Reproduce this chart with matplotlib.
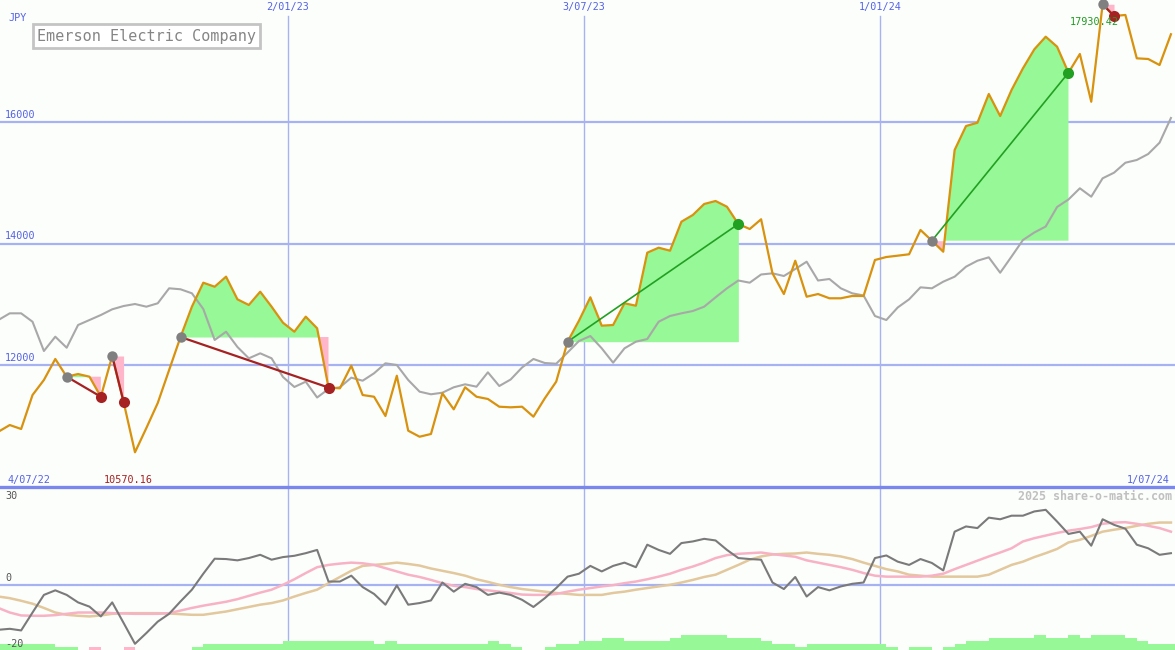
import numpy as np
import pandas as pd
import matplotlib
matplotlib.use("Agg")
import matplotlib.pyplot as plt
import matplotlib.dates as mdates

# weekly closes (JPY)
price = [10908, 11018, 10953, 11511, 11758, 12103, 11812, 11856, 11812, 11483,
         12152, 11396, 10570.16, 10969, 11380, 11922, 12464, 12962, 13356, 13290,
         13455, 13083, 12990, 13208, 12962, 12699, 12551, 12798, 12607, 11634,
         11621, 11993, 11511, 11483, 11166, 11828, 10925, 10826, 10871, 11539,
         11276, 11638, 11483, 11446, 11319, 11309, 11319, 11155, 11457, 11730,
         12387, 12732, 13116, 12650, 12661, 13018, 12978, 13849, 13931, 13882,
         14358, 14468, 14649, 14698, 14604, 14320, 14238, 14398, 13510, 13170,
         13717, 13126, 13170, 13100, 13100, 13138, 13138, 13729, 13778, 13800,
         13823, 14222, 14046, 13865, 15536, 15930, 15984, 16456, 16094, 16522,
         16878, 17190, 17397, 17233, 16806, 17113, 16329, 17930.42, 17737, 17754,
         17042, 17031, 16932, 17437]

# comparison line (grey)
bench = [12743, 12853, 12853, 12715, 12234, 12469, 12288, 12661, 12743, 12825,
         12919, 12973, 13006, 12962, 13018, 13264, 13248, 13182, 12924, 12415,
         12551, 12300, 12114, 12196, 12114, 11807, 11643, 11730, 11470, 11610,
         11638, 11796, 11746, 11868, 12032, 12004, 11758, 11566, 11523, 11549,
         11638, 11687, 11648, 11884, 11659, 11766, 11963, 12103, 12037, 12025,
         12209, 12398, 12480, 12278, 12042, 12278, 12387, 12431, 12715, 12809,
         12853, 12891, 12962, 13116, 13264, 13392, 13356, 13491, 13510, 13466,
         13581, 13701, 13392, 13417, 13264, 13182, 13146, 12809, 12743, 12949,
         13083, 13280, 13264, 13373, 13455, 13619, 13717, 13773, 13520, 13786,
         14057, 14181, 14279, 14600, 14723, 14907, 14769, 15071, 15163, 15327,
         15372, 15470, 15656, 16062]

# lower panel
momentum = [-13.8, -13.5, -14.0, -8.5, -3.1, -1.7, -3.1, -5.4, -6.7, -9.7,
            -5.4, -11.7, -18.1, -14.8, -11.3, -8.9, -5.1, -1.5, 3.4, 8.0,
            7.9, 7.5, 8.2, 9.2, 7.7, 8.5, 8.9, 9.7, 10.7, 1.0,
            1.0, 2.8, -0.7, -2.8, -6.1, -0.2, -6.1, -5.6, -4.8, 0.7,
            -2.1, 0.3, -0.7, -3.1, -2.4, -3.1, -4.6, -6.8, -4.1, -1.0,
            2.5, 3.4, 5.8, 4.1, 5.8, 6.8, 5.4, 12.3, 10.7, 9.5,
            12.8, 13.3, 14.1, 13.6, 10.7, 8.2, 7.9, 7.7, 0.7, -1.3,
            2.4, -3.6, -0.7, -1.7, -0.5, 0.3, 0.7, 8.2, 9.0, 7.1,
            6.1, 7.9, 6.7, 4.4, 16.3, 17.9, 17.4, 20.6, 20.1, 21.2,
            21.2, 22.5, 23.0, 19.4, 15.6, 16.3, 12.0, 20.1, 18.4, 17.2,
            12.3, 11.2, 9.2, 9.7]

avg_fast = [-7.1, -8.5, -9.4, -9.5, -9.5, -9.3, -8.9, -8.5, -8.5, -8.5,
            -8.7, -8.8, -8.9, -8.9, -8.9, -8.7, -7.9, -7.1, -6.4, -5.8,
            -5.2, -4.4, -3.4, -2.4, -1.5, 0.0, 1.7, 3.6, 5.4, 6.1,
            6.5, 6.8, 6.6, 6.1, 5.1, 4.1, 3.1, 2.4, 1.5, 0.5,
            -0.3, -0.7, -1.3, -1.7, -2.1, -2.5, -3.0, -3.1, -3.1, -2.8,
            -2.1, -1.5, -1.0, -0.5, -0.1, 0.5, 1.0, 1.7, 2.5, 3.4,
            4.6, 5.6, 6.8, 8.2, 9.1, 9.5, 9.7, 9.9, 9.4, 9.0,
            8.6, 7.5, 6.8, 6.1, 5.4, 4.6, 3.6, 2.8, 2.5, 2.5,
            2.5, 2.5, 2.8, 3.4, 4.8, 6.1, 7.4, 8.7, 9.9, 11.2,
            13.3, 14.3, 15.1, 15.9, 16.6, 17.1, 17.7, 18.7, 19.1, 19.2,
            18.7, 18.1, 17.4, 16.3]

avg_slow = [-3.6, -4.1, -4.9, -5.8, -7.1, -8.5, -9.2, -9.5, -9.7, -9.4,
            -8.9, -8.7, -8.7, -8.7, -8.7, -8.8, -9.0, -9.2, -9.2, -8.7,
            -8.2, -7.5, -6.8, -6.1, -5.6, -4.8, -3.6, -2.5, -1.5, 0.5,
            2.4, 4.3, 5.8, 6.1, 6.4, 6.8, 6.4, 5.9, 5.0, 4.3,
            3.6, 2.8, 1.7, 0.9, 0.0, -0.7, -1.3, -1.7, -2.1, -2.5,
            -2.8, -3.1, -3.1, -3.1, -2.5, -2.1, -1.5, -1.0, -0.5, 0.0,
            0.7, 1.5, 2.4, 3.1, 4.6, 6.1, 7.7, 8.7, 9.3, 9.5,
            9.6, 9.9, 9.5, 9.2, 8.7, 7.9, 6.8, 5.8, 4.8, 4.1,
            3.1, 2.8, 2.5, 2.5, 2.5, 2.5, 2.5, 3.1, 4.6, 6.1,
            7.1, 8.5, 9.7, 11.0, 13.0, 13.8, 15.0, 16.3, 16.9, 17.4,
            18.1, 18.7, 19.1, 19.1]

# weekly strength blocks (negative = pink)
strength = [2, 2, 2, 2, 2, 1, 1, 0, -1, 0, 0, -1, 0, 0, 0, 0, 0, 1, 2, 2,
            2, 2, 2, 2, 2, 3, 3, 3, 3, 3, 3, 3, 3, 2, 3, 2, 2, 2, 2, 2,
            2, 2, 2, 3, 2, 1, 0, 0, 1, 2, 2, 3, 3, 4, 4, 3, 3, 3, 3, 4,
            5, 5, 5, 5, 4, 4, 4, 3, 2, 2, 1, 2, 2, 2, 2, 2, 2, 2, 1, 0,
            1, 1, 0, 1, 2, 3, 3, 4, 4, 4, 4, 5, 4, 4, 5, 4, 5, 5, 5, 4,
            3, 2, 2, 2]

# trades: entry week, exit week
entries = [6, 10, 16, 50, 82, 97]
exits = [9, 11, 29, 65, 94, 98]

grid_dates = ["2023-01-02", "2023-07-03", "2024-01-01"]
grid_labels = ["2/01/23", "3/07/23", "1/01/24"]
price_ticks = [12000, 14000, 16000]

W, H = 1175, 650
BG = "#fcfefc"
BLUE_TXT = "#5462e6"
GRID = "#a6b2f2"
MONO = "DejaVu Sans Mono"

dates = mdates.date2num(pd.date_range("2022-07-08", periods=len(price), freq="7D"))
x0 = mdates.date2num(pd.Timestamp("2022-07-09"))
x1 = x0 + 722.5
price = np.array(price)

fig = plt.figure(figsize=(W / 100, H / 100), dpi=100, facecolor=BG)
ax = fig.add_axes([0, 163 / H, 1, 487 / H])
ax2 = fig.add_axes([0, 0, 1, 163 / H])
for a in (ax, ax2):
    a.set_xlim(x0, x1)
    a.set_axis_off()
ax.set_ylim(10000, 18000)
ax2.set_ylim(-20, 30)

# grid
for v in price_ticks:
    ax.axhline(v, color=GRID, lw=1.6, zorder=1)
    ax.annotate(str(v), xy=(5 / W, v), xycoords=("axes fraction", "data"),
                xytext=(0, 1.5), textcoords="offset points", ha="left", va="bottom",
                fontsize=7.3, family=MONO, color=BLUE_TXT)
for d, lbl in zip(grid_dates, grid_labels):
    xd = mdates.date2num(pd.Timestamp(d))
    ax.axvline(xd, ymax=(487 - 16) / 487, color=GRID, lw=1, zorder=1)
    ax2.axvline(xd, color=GRID, lw=1, zorder=1)
    ax.annotate(lbl, xy=(xd, 1), xycoords=("data", "axes fraction"),
                xytext=(0, -1.5), textcoords="offset points", ha="center", va="top",
                fontsize=7.3, family=MONO, color=BLUE_TXT)

# trade fills
for e, s in zip(entries, exits):
    xs = dates[e:s + 1]
    ys = price[e:s + 1]
    lvl = price[e]
    ax.fill_between(xs, ys, lvl, where=ys >= lvl, interpolate=True,
                    color="#96f896", lw=0, zorder=2)
    ax.fill_between(xs, ys, lvl, where=ys <= lvl, interpolate=True,
                    color="#ffb6ca", lw=0, zorder=2)

ax.plot(dates, bench, color="#a8a8a8", lw=1.5, zorder=3)
ax.plot(dates, price, color="#d8920e", lw=1.6, zorder=4)

for e, s in zip(entries, exits):
    win = price[s] > price[e]
    col = "#22a022" if win else "#a62222"
    ax.plot([dates[e], dates[s]], [price[e], price[s]], color=col,
            lw=1.2 if win else 1.6, zorder=5)
    ax.plot(dates[e], price[e], "o", color="#808080", ms=7.5, mec="none", zorder=6)
    ax.plot(dates[s], price[s], "o", color=col, ms=8, mec="none", zorder=6)

# high / low labels
hi = int(np.argmax(price))
lo = int(np.argmin(price))
ax.annotate(f"{price[hi]:.2f}", xy=(dates[hi], 18000), xytext=(-6, -16),
            textcoords="offset points", ha="center", va="center",
            fontsize=7.3, family=MONO, color="#229922", zorder=7)
ax.annotate(f"{price[lo]:.2f}", xy=(dates[lo], 10000), xytext=(-5, 1.5),
            textcoords="offset points", ha="center", va="bottom",
            fontsize=7.3, family=MONO, color="#a62222", zorder=7)

# texts
ax.text(8 / W, 1 - 18 / 487, "JPY", transform=ax.transAxes, ha="left", va="center",
        fontsize=7.3, family=MONO, color=BLUE_TXT)
ax.annotate(pd.Timestamp("2022-07-04").strftime("%-d/%m/%y"), xy=(8 / W, 10000),
            xycoords=("axes fraction", "data"), xytext=(0, 1.5),
            textcoords="offset points", ha="left", va="bottom",
            fontsize=7.3, family=MONO, color=BLUE_TXT)
ax.annotate(pd.Timestamp("2024-07-01").strftime("%-d/%m/%y"), xy=(1 - 5 / W, 10000),
            xycoords=("axes fraction", "data"), xytext=(0, 1.5),
            textcoords="offset points", ha="right", va="bottom",
            fontsize=7.3, family=MONO, color=BLUE_TXT)
fig.text(37 / W, 1 - 36 / H, "Emerson Electric Company", ha="left", va="center",
         fontsize=10.9, family=MONO, color="#858585",
         bbox=dict(boxstyle="square,pad=0.28", facecolor="white",
                   edgecolor="#c4c4c4", linewidth=2))

# lower panel
bar_col = ["#96f896" if v >= 0 else "#ffb6ca" for v in strength]
ax2.bar(dates, np.abs(strength) * 0.9, width=7, bottom=-20, align="edge",
        color=bar_col, lw=0, zorder=1)
ax2.axhline(0, color=GRID, lw=1.6, zorder=1)
ax2.axhline(30, color="#7a88ee", lw=2.4, clip_on=False, zorder=8)
ax2.plot(dates, avg_slow, color="#e2c89c", lw=1.8, zorder=2)
ax2.plot(dates, avg_fast, color="#f8b2c6", lw=1.8, zorder=3)
ax2.plot(dates, momentum, color="#7a7a7a", lw=1.5, zorder=4)

for v, va, dy in [(30, "top", -3), (0, "bottom", 1), (-20, "bottom", 0.5)]:
    ax2.annotate(str(v), xy=(5 / W, v), xycoords=("axes fraction", "data"),
                 xytext=(0, dy), textcoords="offset points", ha="left", va=va,
                 fontsize=7.3, family=MONO, color="#555555")
ax2.text(1 - 3 / W, 1 - 9 / 163, "2025 share-o-matic.com", transform=ax2.transAxes,
         ha="right", va="center", fontsize=8.4, family=MONO, color="#c0c0c0",
         fontweight="bold")

fig.savefig("out.png", dpi=100, facecolor=BG)
